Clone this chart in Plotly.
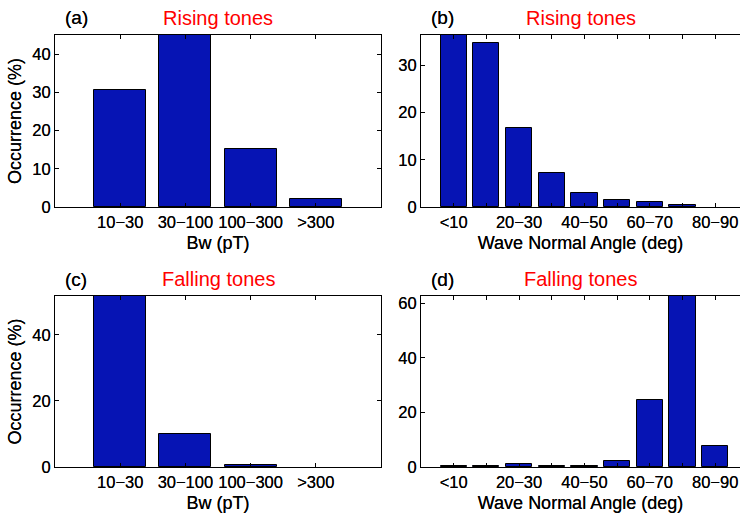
import plotly.graph_objects as go

# ---- data ----
bw_categories = ["10-30", "30-100", "100-300", ">300"]
bw_ticklabels = ["10\u221230", "30\u2212100", "100\u2212300", ">300"]
rising_bw = [30.7, 45.0, 15.3, 2.0]
falling_bw = [51.8, 10.1, 0.5, 0.0]

wna_categories = ["<10", "10-20", "20-30", "30-40", "40-50", "50-60", "60-70", "70-80", "80-90"]
wna_ticklabels = ["<10", "", "20\u221230", "", "40\u221250", "", "60\u221270", "", "80\u221290"]
rising_wna = [36.4, 34.8, 16.7, 7.3, 2.9, 1.55, 1.0, 0.35, 0.0]
falling_wna = [0.5, 0.5, 1.2, 0.5, 0.5, 2.3, 24.7, 62.6, 7.8]

panel_labels = ["(a)", "(b)", "(c)", "(d)"]
panel_titles = ["Rising tones", "Rising tones", "Falling tones", "Falling tones"]

W, H = 740, 515
FONT = "Liberation Sans, Arial, Helvetica, sans-serif"
BAR_COLOR = "#0614B4"
SHADOW = "0px 0px 0.6px rgba(0,0,0,0.9)"

def px_x(a, b):
    return [a / W, b / W]

def px_y(top, bottom):
    return [(H - bottom) / H, (H - top) / H]

def font(size, color="black", shadow=SHADOW):
    return dict(family=FONT, size=size, color=color, shadow=shadow)

fig = go.Figure()

panels = [
    dict(cats=bw_categories, ticks=bw_ticklabels, vals=rising_bw, xd=px_x(55, 381), yd=px_y(35, 207),
         xr=[0, 5], dt=10, xt="Bw (pT)", yt="Occurrence (%)", mirror_y=True),
    dict(cats=wna_categories, ticks=wna_ticklabels, vals=rising_wna, xd=px_x(421, 740), yd=px_y(35, 207),
         xr=[0, 9.76], dt=10, xt="Wave Normal Angle (deg)", yt=None, mirror_y=False),
    dict(cats=bw_categories, ticks=bw_ticklabels, vals=falling_bw, xd=px_x(55, 381), yd=px_y(296, 467),
         xr=[0, 5], dt=20, xt="Bw (pT)", yt="Occurrence (%)", mirror_y=True),
    dict(cats=wna_categories, ticks=wna_ticklabels, vals=falling_wna, xd=px_x(421, 740), yd=px_y(296, 467),
         xr=[0, 9.76], dt=20, xt="Wave Normal Angle (deg)", yt=None, mirror_y=False),
]

layout = {}
annotations = []
for i, p in enumerate(panels):
    n = i + 1
    xa = "x" if n == 1 else f"x{n}"
    ya = "y" if n == 1 else f"y{n}"
    pos = list(range(1, len(p["cats"]) + 1))
    edge_w = [1 if v > 0 else 0 for v in p["vals"]]
    fig.add_trace(go.Bar(
        x=pos, y=p["vals"], width=0.8, xaxis=xa, yaxis=ya,
        marker=dict(color=BAR_COLOR, line=dict(color="black", width=edge_w)),
        hovertext=p["cats"], showlegend=False,
    ))
    xkey = "xaxis" if n == 1 else f"xaxis{n}"
    ykey = "yaxis" if n == 1 else f"yaxis{n}"
    layout[xkey] = dict(
        domain=p["xd"], anchor=ya, range=p["xr"], tickmode="array", automargin=False,
        tickvals=pos, ticktext=p["ticks"], ticks="inside", ticklen=4, tickcolor="black",
        showline=True, linecolor="black", linewidth=1, mirror="allticks",
        showgrid=False, zeroline=False,
        tickfont=font(16.5),
        title=dict(text=p["xt"], font=font(18), standoff=6),
    )
    ytop = max(p["vals"])
    layout[ykey] = dict(
        domain=p["yd"], anchor=xa, range=[0, ytop], dtick=p["dt"], tick0=0, automargin=False,
        ticks="inside", ticklen=4, tickcolor="black",
        showline=True, linecolor="black", linewidth=1,
        mirror="allticks" if p["mirror_y"] else False,
        showgrid=False, zeroline=False,
        tickfont=font(16.5),
        title=dict(text=p["yt"], font=font(18), standoff=6) if p["yt"] else None,
    )
    xc = (p["xd"][0] + p["xd"][1]) / 2
    ytitle = p["yd"][1] + 17 / H
    annotations.append(dict(text=panel_titles[i], x=xc, y=ytitle, xref="paper", yref="paper",
                            showarrow=False, xanchor="center", yanchor="middle",
                            font=font(20, "red", "none")))
    annotations.append(dict(text=panel_labels[i], x=p["xd"][0] + 21 / W, y=ytitle, xref="paper", yref="paper",
                            showarrow=False, xanchor="center", yanchor="middle",
                            font=font(19)))

fig.update_layout(
    width=W, height=H, margin=dict(l=0, r=0, t=0, b=0, autoexpand=False),
    paper_bgcolor="white", plot_bgcolor="white",
    bargap=0, annotations=annotations, **layout,
)

fig.write_html("out.html", config={"displayModeBar": False},
               post_script="document.body.style.margin='0';document.body.style.overflow='hidden';")
